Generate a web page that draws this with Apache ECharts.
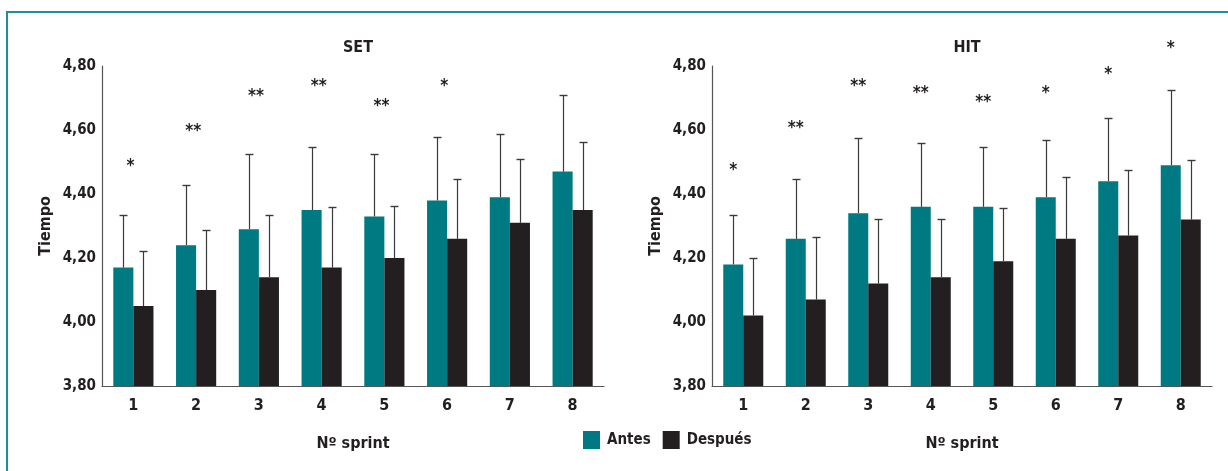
<!DOCTYPE html>
<html><head><meta charset="utf-8">
<script src="https://cdn.jsdelivr.net/npm/echarts@6/dist/echarts.min.js"></script>
<style>html,body{margin:0;padding:0;background:#fff}#c{width:1228px;height:471px}</style>
</head><body><div id="c"></div>
<script>
const categories = ['1','2','3','4','5','6','7','8'];
const yTicks = [3.8, 4.8, 0.2];
// SET
const setAntes = [4.17,4.24,4.29,4.35,4.33,4.38,4.39,4.47];
const setAntesSD = [0.164,0.188,0.236,0.198,0.196,0.197,0.197,0.239];
const setDespues = [4.05,4.10,4.14,4.17,4.20,4.26,4.31,4.35];
const setDespuesSD = [0.173,0.188,0.194,0.188,0.163,0.187,0.200,0.213];
const setStars = ['*','**','**','**','**','*','',''];
const setStarY = [4.50,4.61,4.72,4.75,4.69,4.75,null,null];
// HIT
const hitAntes = [4.18,4.26,4.34,4.36,4.36,4.39,4.44,4.49];
const hitAntesSD = [0.154,0.187,0.236,0.198,0.188,0.179,0.197,0.236];
const hitDespues = [4.02,4.07,4.12,4.14,4.19,4.26,4.27,4.32];
const hitDespuesSD = [0.181,0.195,0.203,0.183,0.167,0.192,0.205,0.187];
const hitStars = ['*','**','**','**','**','*','*','*'];
const hitStarY = [4.49,4.62,4.75,4.73,4.70,4.73,4.79,4.87];

const TEAL = '#007a82', DARK = '#231f20', TXT = '#231f20';
const FONT = "'DejaVu Sans Condensed','Liberation Sans Narrow','Roboto',sans-serif";
const GAP = 0.36;

function errSeries(idx, means, sds, side) {
  return {
    type: 'custom', xAxisIndex: idx, yAxisIndex: idx, silent: true, z: 5,
    data: means.map((m, i) => [i, m, m + sds[i]]),
    renderItem: function (params, api) {
      const c = api.value(0);
      const base = api.coord([c, api.value(1)]);
      const top = api.coord([c, api.value(2)]);
      const bw = api.size([1, 0])[0] * (1 - GAP) / 2;
      const x = Math.round(base[0] + side * bw / 2) + 0.5;
      const y0 = base[1], y1 = Math.round(top[1]) + 0.5;
      return { type: 'group', children: [
        { type: 'line', shape: { x1: x, y1: y0, x2: x, y2: y1 }, style: { stroke: '#3a3a3a', lineWidth: 1.2 } },
        { type: 'line', shape: { x1: x - 4, y1: y1, x2: x + 4, y2: y1 }, style: { stroke: '#3a3a3a', lineWidth: 1.4 } }
      ]};
    }
  };
}
function starSeries(idx, stars, ys, dx) {
  return {
    type: 'custom', xAxisIndex: idx, yAxisIndex: idx, silent: true, z: 6, clip: false,
    data: ys.map((v, i) => [i, v == null ? 0 : v, stars[i]]),
    renderItem: function (params, api) {
      const s = stars[params.dataIndex];
      if (!s) return null;
      const p = api.coord([api.value(0), api.value(1)]);
      return { type: 'text', x: p[0] + dx, y: p[1] + 5,
        style: { text: s, fill: TXT, font: 'bold 17px ' + FONT, textAlign: 'center', textVerticalAlign: 'middle' } };
    }
  };
}
function barSeries(idx, name, data, color) {
  return { type: 'bar', name: name, xAxisIndex: idx, yAxisIndex: idx, data: data,
    itemStyle: { color: color }, barGap: '0%', barCategoryGap: (GAP * 100) + '%' };
}
function xAx(idx) {
  return { type: 'category', gridIndex: idx, data: categories,
    name: 'Nº sprint', nameLocation: 'middle', nameGap: 50,
    nameTextStyle: { color: TXT, fontFamily: FONT, fontWeight: 'bold', fontSize: 16 },
    axisLine: { lineStyle: { color: '#555', width: 1.2 } }, axisTick: { show: false },
    axisLabel: { color: TXT, fontFamily: FONT, fontWeight: 'bold', fontSize: 16, margin: 12 } };
}
function yAx(idx) {
  return { type: 'value', gridIndex: idx, min: yTicks[0], max: yTicks[1], interval: yTicks[2],
    name: 'Tiempo', nameLocation: 'middle', nameGap: 48, nameRotate: 90,
    nameTextStyle: { color: TXT, fontFamily: FONT, fontWeight: 'bold', fontSize: 16 },
    axisLine: { show: true, lineStyle: { color: '#555', width: 1.2 } }, axisTick: { show: false },
    splitLine: { show: false },
    axisLabel: { color: TXT, fontFamily: FONT, fontWeight: 'bold', fontSize: 15, margin: 6,
      formatter: v => v.toFixed(2).replace('.', ',') } };
}

const chart = echarts.init(document.getElementById('c'), null, { renderer: 'canvas' });
chart.setOption({
  animation: false,
  title: [
    { text: 'SET', left: 353, top: 35, textAlign: 'center', textStyle: { color: TXT, fontFamily: FONT, fontWeight: 'bold', fontSize: 16 } },
    { text: 'HIT', left: 962, top: 35, textAlign: 'center', textStyle: { color: TXT, fontFamily: FONT, fontWeight: 'bold', fontSize: 16 } }
  ],
  legend: { left: 583, top: 431, padding: 0, itemWidth: 17, itemHeight: 18, itemGap: 12, icon: 'rect',
    data: ['Antes', 'Después'],
    textStyle: { color: TXT, fontFamily: FONT, fontWeight: 'bold', fontSize: 15, padding: [0, 0, 0, 2] } },
  grid: [
    { left: 102, top: 66, width: 502, height: 320 },
    { left: 712, top: 66, width: 500, height: 320 }
  ],
  xAxis: [xAx(0), xAx(1)],
  yAxis: [yAx(0), yAx(1)],
  series: [
    barSeries(0, 'Antes', setAntes, TEAL),
    barSeries(0, 'Después', setDespues, DARK),
    barSeries(1, 'Antes', hitAntes, TEAL),
    barSeries(1, 'Después', hitDespues, DARK),
    errSeries(0, setAntes, setAntesSD, -1),
    errSeries(0, setDespues, setDespuesSD, 1),
    errSeries(1, hitAntes, hitAntesSD, -1),
    errSeries(1, hitDespues, hitDespuesSD, 1),
    starSeries(0, setStars, setStarY, -3),
    starSeries(1, hitStars, hitStarY, -10)
  ],
  graphic: [
    { type: 'polyline', shape: { points: [[7, 471], [7, 12], [1228, 12]] }, style: { stroke: '#1f8f96', lineWidth: 2, fill: null } }
  ]
});
</script></body></html>
